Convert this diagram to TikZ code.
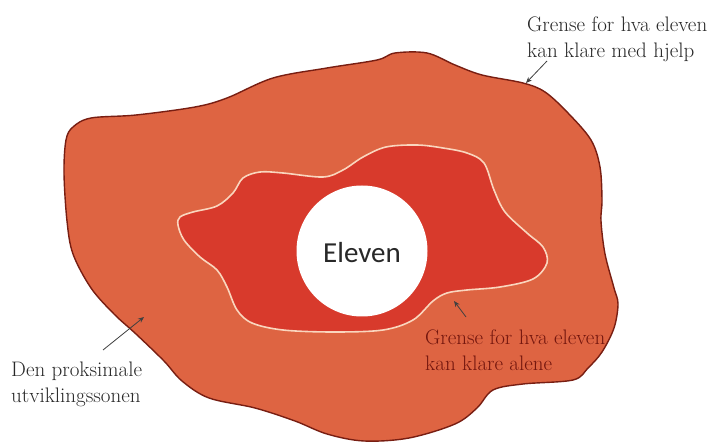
\documentclass[tikz,border=0pt]{standalone}
\usepackage{fontspec}
\newfontfamily\carl{Carlito}
\usetikzlibrary{arrows.meta}
\definecolor{outerfill}{RGB}{222,100,66}
\definecolor{outerline}{RGB}{120,30,18}
\definecolor{innerfill}{RGB}{216,58,44}
\definecolor{innerline}{RGB}{250,214,190}
\definecolor{labelgray}{RGB}{40,40,40}
\definecolor{labelred}{RGB}{115,22,14}
\tikzset{
  lbl/.style={anchor=north west, inner sep=0pt, align=left,
    font=\rmfamily\fontsize{21}{25.5}\selectfont},
  pointer/.style={draw=black!75, line width=0.8pt,
    -{Stealth[length=6pt,width=5pt]}},
}
\begin{document}
\begin{tikzpicture}[x=1pt,y=-1pt]
\useasboundingbox (0,0) rectangle (712,443);
\fill[white] (0,0) rectangle (712,443);
% outer zone
\filldraw[fill=outerfill, draw=outerline, line width=1.4pt]
  plot[smooth cycle, tension=0.55] coordinates {
  (73,127) (91,118) (136,115) (195,107) (227,98) (273,78) (327,68)
  (377,60) (395,53) (427,53) (455,65) (482,75) (523,83) (545,92)
  (568,113) (591,140) (600,167) (602,200) (601,221) (605,254)
  (614,288) (618,304) (614,328) (602,352) (588,368) (573,380)
  (523,384) (493,390) (477,408) (455,424) (409,438) (364,441)
  (327,434) (295,421) (255,408) (209,398) (182,381) (164,361)
  (136,334) (114,314) (91,288) (73,254) (67,221) (64,173) (66,140)};
% inner zone
\filldraw[fill=innerfill, draw=innerline, line width=1.6pt]
  plot[smooth cycle, tension=0.55] coordinates {
  (180,217) (178,225) (184,240) (200,257) (217,270) (227,287)
  (237,310) (252,323) (283,330) (333,332) (383,330) (413,320)
  (433,301) (447,293) (467,290) (500,287) (533,279) (547,263)
  (543,247) (527,233) (505,212) (494,190) (484,163) (467,153)
  (443,148) (417,145) (386,147) (363,157) (343,170) (323,177)
  (283,173) (260,172) (243,178) (233,193) (217,206) (193,212)};
% the student
\node[circle, fill=white, minimum size=131pt, inner sep=0pt] (elev) at (362,251) {};
\node[text=labelgray, font=\carl\fontsize{29}{32}\selectfont] (elevtxt) at (362,253) {Eleven};
% labels
\node[lbl, text=labelgray] (hjelp) at (527,17) {Grense for hva eleven\\kan klare med hjelp};
\node[lbl, text=labelred] (alene) at (425,330) {Grense for hva eleven\\kan klare alene};
\node[lbl, text=labelgray] (sone) at (11,362) {Den proksimale\\utviklingssonen};
% pointer ends
\coordinate (p1s) at (547,61);
\coordinate (p1e) at (526,83);
\coordinate (p2s) at (466,317);
\coordinate (p2e) at (454,301);
\coordinate (p3s) at (103,350);
\coordinate (p3e) at (144,317);
\draw[pointer] (p1s) -- (p1e);
\draw[pointer] (p2s) -- (p2e);
\draw[pointer] (p3s) -- (p3e);
\end{tikzpicture}
\end{document}
